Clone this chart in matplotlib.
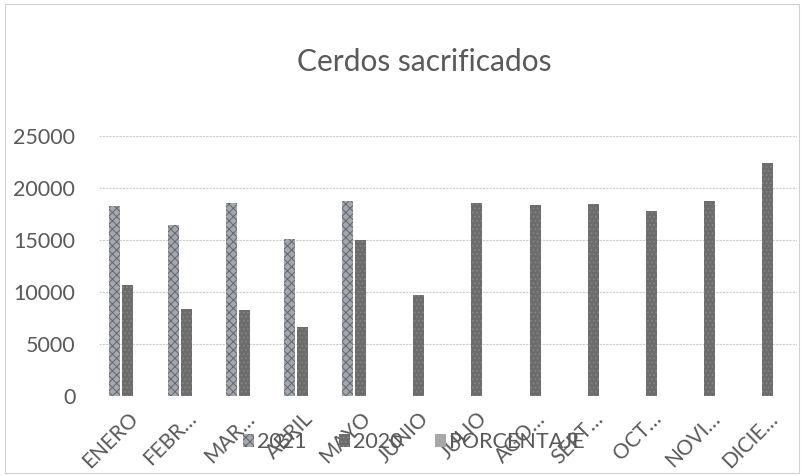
import matplotlib
matplotlib.use("Agg")
import matplotlib.pyplot as plt
from matplotlib.patches import Rectangle
import numpy as np

meses = ["ENERO", "FEBR…", "MAR…", "ABRIL", "MAYO", "JUNIO", "JULIO",
         "AGO…", "SEPT…", "OCT…", "NOVI…", "DICIE…"]
serie_2021 = [18300, 16500, 18600, 15100, 18750]
serie_2020 = [10700, 8400, 8250, 6600, 15000, 9700, 18600, 18400, 18500, 17800, 18750, 22400]
porcentaje = [0, 0, 0, 0, 0, 0, 0, 0, 0, 0, 0, 0]
yticks = [0, 5000, 10000, 15000, 20000, 25000]

plt.rcParams['font.family'] = ['Lato', 'DejaVu Sans']
plt.rcParams['hatch.linewidth'] = 0.7
gris = '#595959'

fig = plt.figure(figsize=(8.04, 4.76), dpi=100)
ax = fig.add_axes([0.123, 0.168, 0.868, 0.546])

x = np.arange(len(meses))
w = 0.19
paso = 0.225

ax.bar(x[:len(serie_2021)] - paso, serie_2021, width=w, color='#a4a8ae',
       edgecolor='#62666d', hatch='xxxx', linewidth=0, label='2021', zorder=3)
ax.bar(x, serie_2020, width=w, color='#6c6c6c', edgecolor='#858585',
       hatch='....', linewidth=0, label='2020', zorder=3)
ax.bar(x + paso, porcentaje, width=w, color='#a8a8a8', linewidth=0,
       label='PORCENTAJE', zorder=3)

ax.set_xlim(-0.5, len(meses) - 0.5)
ax.set_ylim(0, 25000)
ax.set_yticks(yticks)
ax.set_yticklabels([str(v) for v in yticks], fontsize=15.5, color=gris)
ax.set_xticks(x)
ax.set_xticklabels(meses, rotation=45, ha='right', rotation_mode='anchor',
                   fontsize=15, color=gris)
ax.tick_params(axis='y', length=0, pad=17)
ax.tick_params(axis='x', length=0, pad=9)
ax.grid(axis='y', color='#c9cdd3', linewidth=0.8, linestyle=(0, (2, 1)), zorder=0)
for s in ax.spines.values():
    s.set_visible(False)

fig.suptitle("Cerdos sacrificados", x=0.528, y=0.9, fontsize=21.5, color=gris)

leg = fig.legend(loc='center', bbox_to_anchor=(0.515, 0.071), ncol=3, frameon=False,
                 fontsize=15.5, handlelength=0.5, handleheight=0.5, handletextpad=0.15,
                 columnspacing=1.5)
for t in leg.get_texts():
    t.set_color(gris)

fig.patches.append(Rectangle((0.006, 0.006), 0.988, 0.986, transform=fig.transFigure,
                             fill=False, edgecolor='#d0d0d0', linewidth=0.8))

fig.savefig("out.png", dpi=100)
